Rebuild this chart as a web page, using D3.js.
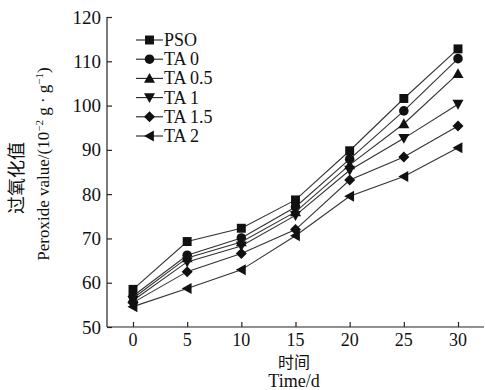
<!DOCTYPE html>
<html>
<head>
<meta charset="utf-8">
<style>
    body { margin: 0; background: #fff; }
    text { font-family: "Liberation Serif", "Times New Roman", serif; fill: #111; }
    .cn { font-family: "Noto Sans CJK SC", sans-serif; font-weight: 400; }
    .series .link { fill: none; stroke: #333; stroke-width: 1.1; }
</style>
</head>
<body>
<svg id="chart" width="485" height="390"></svg>
<script src="https://cdn.jsdelivr.net/npm/d3@7"></script>
<script>
    // data
    let days = [0, 5, 10, 15, 20, 25, 30]
    let seriesNames = ["PSO", "TA 0", "TA 0.5", "TA 1", "TA 1.5", "TA 2"]
    let pso = [58.5, 69.3, 72.3, 78.7, 89.8, 101.6, 112.8]
    let ta0 = [57.0, 66.2, 70.1, 77.1, 87.9, 98.8, 110.6]
    let ta05 = [56.5, 65.6, 69.2, 76.0, 86.6, 95.9, 107.2]
    let ta1 = [56.0, 64.7, 68.3, 75.2, 85.4, 92.6, 100.3]
    let ta15 = [55.5, 62.5, 66.6, 72.0, 83.2, 88.4, 95.4]
    let ta2 = [54.6, 58.7, 62.9, 70.6, 79.5, 84.0, 90.5]
    let xTicks = [0, 5, 10, 15, 20, 25, 30]
    let yTicks = [50, 60, 70, 80, 90, 100, 110, 120]

    let allValues = [pso, ta0, ta05, ta1, ta15, ta2]
    let symbols = ["square", "circle", "up", "down", "diamond", "left"]

    let svg = d3.select("#chart")

    let x = d3.scaleLinear().domain([-2.4, 32.4]).range([107, 484])
    let y = d3.scaleLinear().domain([50, 120]).range([327, 17])

    // axes, ticks pointing inward
    let xAxis = svg.append("g")
        .attr("transform", "translate(0,327)")
        .call(d3.axisTop(x).tickValues(xTicks).tickSize(5).tickFormat(""))
    xAxis.select(".domain").attr("d", `M${x.range()[0]},0H${x.range()[1]}`)
    xAxis.selectAll("line, path").attr("stroke", "#222").attr("stroke-width", 1.2)

    let yAxis = svg.append("g")
        .attr("transform", "translate(107,0)")
        .call(d3.axisRight(y).tickValues(yTicks).tickSize(5).tickFormat(""))
    yAxis.select(".domain").attr("d", `M0,${y.range()[1]}V${y.range()[0]}`)
    yAxis.selectAll("line, path").attr("stroke", "#222").attr("stroke-width", 1.2)

    svg.append("g").selectAll("text")
        .data(xTicks).enter().append("text")
        .attr("x", d => x(d))
        .attr("y", 346)
        .attr("text-anchor", "middle")
        .attr("font-size", 18)
        .text(d => d)

    svg.append("g").selectAll("text")
        .data(yTicks).enter().append("text")
        .attr("x", 101)
        .attr("y", d => y(d) + 6.5)
        .attr("text-anchor", "end")
        .attr("font-size", 19)
        .text(d => d)

    // marker shapes
    function marker(g, kind) {
        let s = 5.5
        let d
        if (kind == "square") d = d3.symbol(d3.symbolSquare, 80)()
        else if (kind == "circle") d = d3.symbol(d3.symbolCircle, 72)()
        else {
            let pts = kind == "up" ? [[0, -s], [s, s * 0.8], [-s, s * 0.8]]
                : kind == "down" ? [[0, s], [s, -s * 0.8], [-s, -s * 0.8]]
                : kind == "left" ? [[-s, 0], [s * 0.8, -s], [s * 0.8, s]]
                : [[0, -s], [s, 0], [0, s], [-s, 0]]
            d = "M" + pts.join("L") + "Z"
        }
        g.append("path").attr("d", d).style("fill", "#111").style("stroke", "none")
    }

    let line = d3.line().x((d, i) => x(days[i])).y(d => y(d))

    allValues.forEach((vals, k) => {
        let g = svg.append("g").attr("class", "series")
        g.append("path").attr("class", "link").attr("d", line(vals))
        vals.forEach((v, i) => {
            let m = g.append("g").attr("transform", `translate(${x(days[i])},${y(v)})`)
            marker(m, symbols[k])
        })
    })

    // legend
    let legend = svg.append("g").attr("transform", "translate(136,40)")
    seriesNames.forEach((name, k) => {
        let row = legend.append("g").attr("transform", `translate(0,${k * 19.2})`)
        row.append("line").attr("x1", 0).attr("x2", 27).attr("stroke", "#222").attr("stroke-width", 1.1)
        let m = row.append("g").attr("transform", "translate(13.5,0)")
        marker(m, symbols[k])
        row.append("text").attr("x", 28).attr("y", 6).attr("font-size", 18).text(name)
    })

    // axis titles
    svg.append("text")
        .attr("class", "cn")
        .attr("transform", "translate(23,178) rotate(-90)")
        .attr("text-anchor", "middle")
        .attr("font-size", 18)
        .text("过氧化值")

    let yt = svg.append("text")
        .attr("transform", "translate(49,164) rotate(-90)")
        .attr("text-anchor", "middle")
        .attr("font-size", 17)
    yt.append("tspan").text("Peroxide value/(10")
    yt.append("tspan").attr("dy", -6).attr("font-size", 11).text("−2")
    yt.append("tspan").attr("dy", 6).text(" g · g")
    yt.append("tspan").attr("dy", -6).attr("font-size", 11).text("−1")
    yt.append("tspan").attr("dy", 6).text(")")

    svg.append("text")
        .attr("class", "cn")
        .attr("x", 294).attr("y", 368)
        .attr("text-anchor", "middle")
        .attr("font-size", 16)
        .text("时间")

    svg.append("text")
        .attr("x", 294).attr("y", 387)
        .attr("text-anchor", "middle")
        .attr("font-size", 18)
        .text("Time/d")
</script>
</body>
</html>
